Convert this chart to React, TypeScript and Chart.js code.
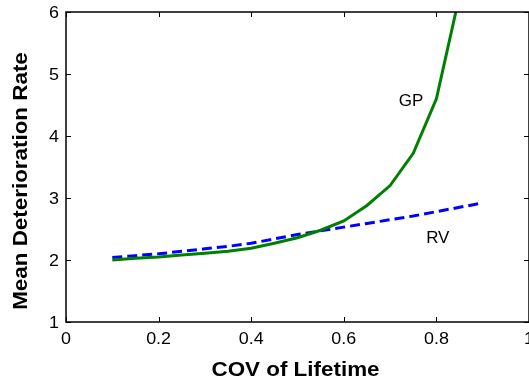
import React, { useEffect, useRef } from "react";
import { Chart, registerables } from "chart.js";

Chart.register(...registerables);

// ---- data ----
const gpCov = [0.1, 0.15, 0.2, 0.25, 0.3, 0.35, 0.4, 0.45, 0.5, 0.55, 0.6, 0.65, 0.7, 0.75, 0.8, 0.85];
const gpRate = [2.0, 2.03, 2.05, 2.08, 2.11, 2.14, 2.19, 2.27, 2.36, 2.48, 2.63, 2.88, 3.2, 3.72, 4.6, 6.27];
const rvCov = [0.1, 0.15, 0.2, 0.25, 0.3, 0.35, 0.4, 0.45, 0.5, 0.55, 0.6, 0.65, 0.7, 0.75, 0.8, 0.85, 0.9];
const rvRate = [2.04, 2.07, 2.1, 2.14, 2.18, 2.22, 2.27, 2.34, 2.41, 2.47, 2.53, 2.59, 2.65, 2.71, 2.78, 2.85, 2.92];
const xTickValues = [0, 0.2, 0.4, 0.6, 0.8, 1];
const yTickValues = [1, 2, 3, 4, 5, 6];
const xTitle = "COV of Lifetime";
const yTitle = "Mean Deterioration Rate";
const labelTexts = ["GP", "RV"];
const labelCov = [0.745, 0.803];
const labelRate = [4.58, 2.37];

const FONT = "'Liberation Sans', Arial, Helvetica, sans-serif";
const STRETCH = 1.12;

function drawText(
  ctx: CanvasRenderingContext2D,
  text: string,
  x: number,
  y: number,
  font: string,
  align: CanvasTextAlign,
  baseline: CanvasTextBaseline,
  sx = 1,
  rot = 0
) {
  ctx.save();
  ctx.translate(x, y);
  if (rot) ctx.rotate(rot);
  ctx.scale(sx, 1);
  ctx.font = font;
  ctx.textAlign = align;
  ctx.textBaseline = baseline;
  ctx.fillStyle = "#000";
  ctx.fillText(text, 0, 0);
  ctx.restore();
}

const fmt = (v: number) => String(Math.round(v * 10) / 10);

const framePlugin = {
  id: "matlabFrame",
  afterDatasetsDraw(chart: any) {
    const ctx: CanvasRenderingContext2D = chart.ctx;
    const { left, right, top, bottom } = chart.chartArea;
    const xs = chart.scales.x;
    const ys = chart.scales.y;
    ctx.save();
    ctx.strokeStyle = "#000";
    ctx.lineWidth = 1.5;
    ctx.strokeRect(left, top, right - left, bottom - top);
    ctx.lineWidth = 1;
    const tl = 5;
    ctx.beginPath();
    xTickValues.forEach((v) => {
      const px = Math.round(xs.getPixelForValue(v)) + 0.5;
      ctx.moveTo(px, bottom);
      ctx.lineTo(px, bottom - tl);
      ctx.moveTo(px, top);
      ctx.lineTo(px, top + tl);
    });
    yTickValues.forEach((v) => {
      const py = Math.round(ys.getPixelForValue(v)) + 0.5;
      ctx.moveTo(left, py);
      ctx.lineTo(left + tl, py);
      ctx.moveTo(right, py);
      ctx.lineTo(right - tl, py);
    });
    ctx.stroke();
    ctx.restore();

    // tick labels
    xTickValues.forEach((v) => {
      drawText(ctx, fmt(v), xs.getPixelForValue(v), bottom + 22, `16px ${FONT}`, "center", "alphabetic", STRETCH);
    });
    yTickValues.forEach((v) => {
      drawText(ctx, fmt(v), left - 7, ys.getPixelForValue(v) + 6, `16px ${FONT}`, "right", "alphabetic", STRETCH);
    });

    // axis titles
    drawText(ctx, xTitle, (left + right) / 2 - 2, 376, `bold 20px ${FONT}`, "center", "alphabetic", STRETCH);
    drawText(ctx, yTitle, 27, 181, `bold 20px ${FONT}`, "center", "alphabetic", STRETCH, -Math.PI / 2);

    // curve labels
    labelTexts.forEach((t, i) => {
      drawText(
        ctx,
        t,
        xs.getPixelForValue(labelCov[i]),
        ys.getPixelForValue(labelRate[i]) + 6,
        `17px ${FONT}`,
        "center",
        "alphabetic"
      );
    });
  },
};

export default function App() {
  const ref = useRef<HTMLCanvasElement | null>(null);

  useEffect(() => {
    document.body.style.margin = "0";
    const canvas = ref.current;
    if (!canvas) return;
    const chart = new Chart(canvas, {
      type: "line",
      data: {
        datasets: [
          {
            label: "GP",
            data: gpCov.map((x, i) => ({ x, y: gpRate[i] })),
            borderColor: "rgb(0,128,0)",
            borderWidth: 3,
            pointRadius: 0,
            fill: false,
            tension: 0,
          },
          {
            label: "RV",
            data: rvCov.map((x, i) => ({ x, y: rvRate[i] })),
            borderColor: "rgb(0,0,255)",
            borderWidth: 3,
            borderDash: [10, 5],
            pointRadius: 0,
            fill: false,
            tension: 0,
          },
        ],
      },
      options: {
        responsive: false,
        animation: false,
        devicePixelRatio: 1,
        layout: { padding: { left: 0, top: 12, right: 31, bottom: 0 } },
        plugins: { legend: { display: false }, tooltip: { enabled: false } },
        scales: {
          x: {
            type: "linear",
            min: 0,
            max: 1,
            grid: { display: false },
            border: { display: false },
            ticks: { display: false },
            afterFit: (s: any) => {
              s.height = 58;
            },
          },
          y: {
            type: "linear",
            min: 1,
            max: 6,
            grid: { display: false },
            border: { display: false },
            ticks: { display: false },
            afterFit: (s: any) => {
              s.width = 66;
            },
          },
        },
      },
      plugins: [framePlugin],
    });
    return () => chart.destroy();
  }, []);

  return (
    <div style={{ width: 529, height: 380, overflow: "hidden", position: "relative", background: "#fff" }}>
      <canvas ref={ref} width={560} height={380} style={{ width: 560, height: 380, display: "block" }} />
    </div>
  );
}
